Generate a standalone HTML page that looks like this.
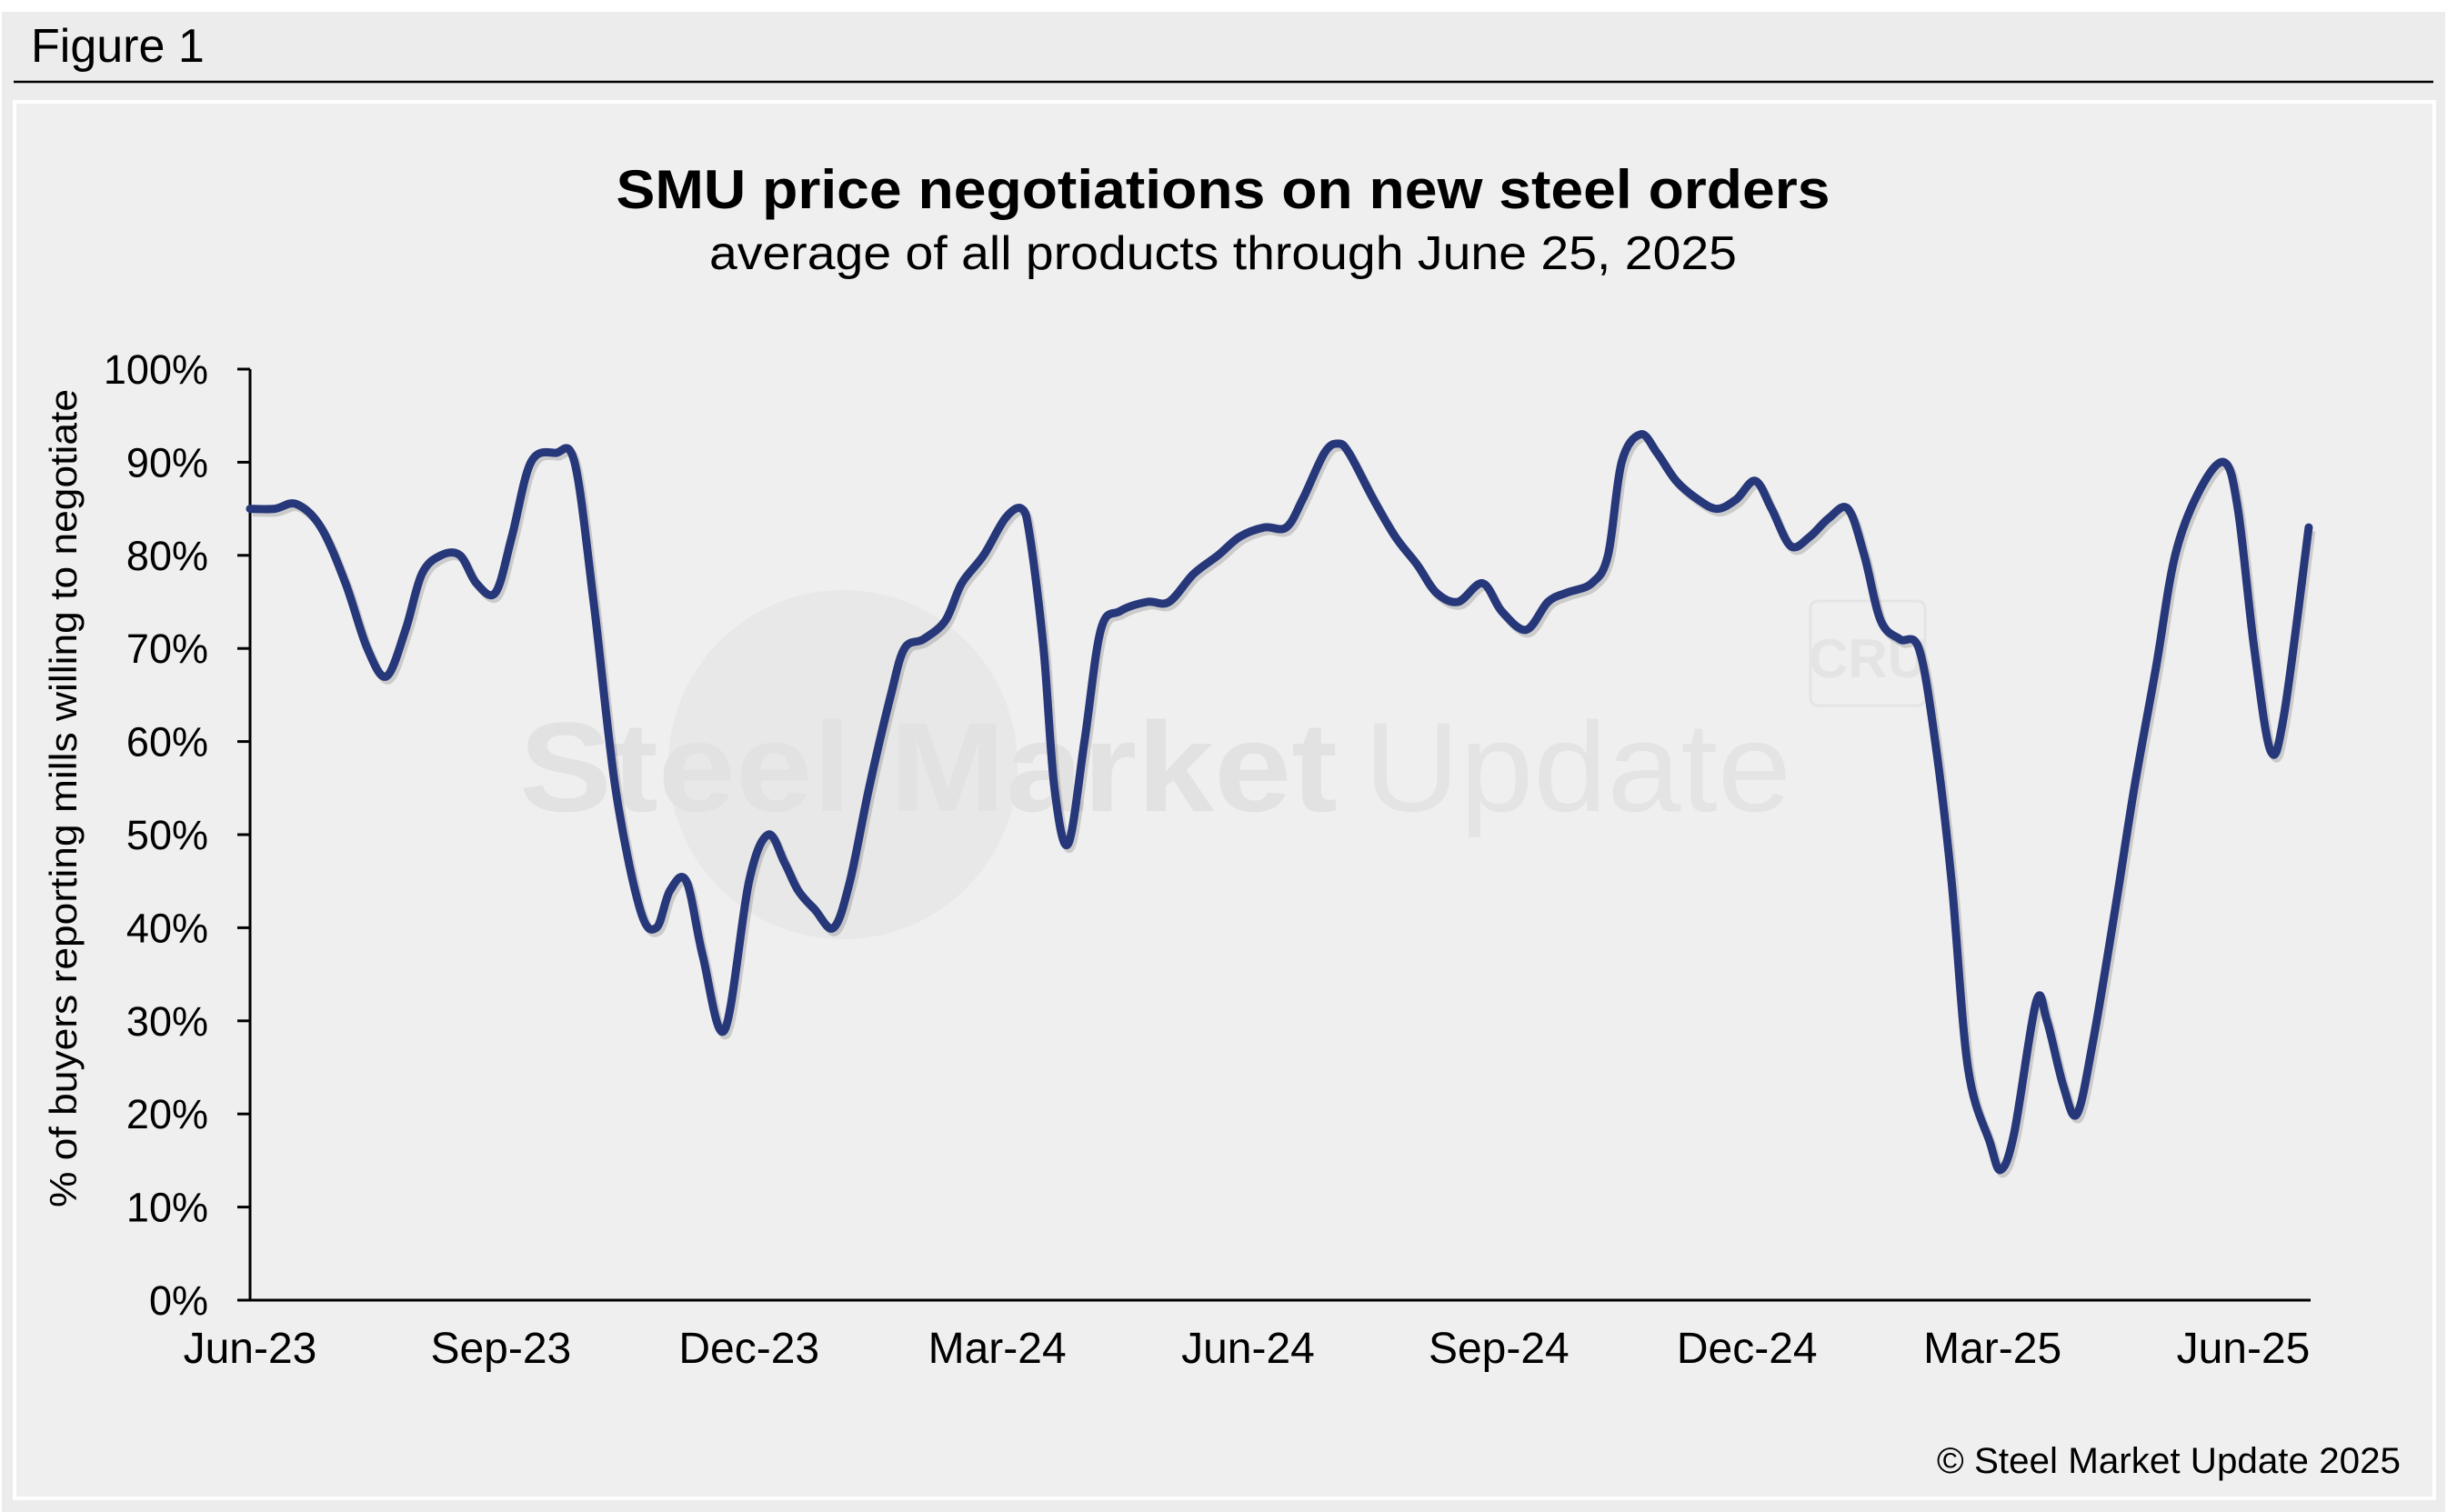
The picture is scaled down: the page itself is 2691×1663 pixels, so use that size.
<!DOCTYPE html>
<html><head><meta charset="utf-8"><style>
html,body{margin:0;padding:0;background:#ececec;}
svg{display:block;font-family:"Liberation Sans",Arial,sans-serif;}
</style></head><body>
<svg id="chart" width="2691" height="1663" viewBox="0 0 2691 1663">
<rect x="0" y="0" width="2691" height="1663" fill="#ffffff"/>
<rect x="2" y="13" width="2687" height="1650" fill="#ececec"/>
<text x="34" y="68" font-size="52" fill="#000">Figure 1</text>
<line x1="15" y1="90" x2="2676" y2="90" stroke="#000" stroke-width="2.5"/>
<rect x="16" y="112" width="2661" height="1536" fill="#efefef" stroke="#ffffff" stroke-width="4"/>
<g>
<circle cx="927" cy="841" r="192" fill="#e8e8e8"/>
<text x="571" y="892" font-size="140" font-weight="bold" fill="#e2e2e2" textLength="900" lengthAdjust="spacingAndGlyphs">Steel Market</text>
<text x="1500" y="892" font-size="140" fill="#e4e4e4" textLength="470" lengthAdjust="spacingAndGlyphs">Update</text>
<rect x="1991" y="661" width="126" height="115" rx="8" fill="none" stroke="#e4e4e4" stroke-width="3"/>
<text x="2054" y="745" font-size="60" font-weight="bold" fill="#e4e4e4" text-anchor="middle">CRU</text>
</g>
<text x="1345" y="229" font-size="60" font-weight="bold" text-anchor="middle" textLength="1335" lengthAdjust="spacingAndGlyphs" fill="#000">SMU price negotiations on new steel orders</text>
<text x="1345" y="296" font-size="52" text-anchor="middle" textLength="1130" lengthAdjust="spacingAndGlyphs" fill="#000">average of all products through June 25, 2025</text>
<text transform="translate(84,878) rotate(-90)" font-size="42" text-anchor="middle" textLength="900" lengthAdjust="spacingAndGlyphs" fill="#000">% of buyers reporting mills willing to negotiate</text>
<text x="2640" y="1620" font-size="40" text-anchor="end" textLength="510" lengthAdjust="spacingAndGlyphs" fill="#000">© Steel Market Update 2025</text>
<g id="axes"></g>
<g id="series"></g>
</svg>
<script>
const yTicks = [0,10,20,30,40,50,60,70,80,90,100];
const xTickLabels = ["Jun-23","Sep-23","Dec-23","Mar-24","Jun-24","Sep-24","Dec-24","Mar-25","Jun-25"];
const xTickDays = [0,92,183,274,366,458,549,639,731];
const days = [0,9,17,26,35,43,50,57,63,70,77,83,90,96,103,112,119,126,134,143,149,154,160,166,174,183,190,196,201,207,214,220,227,235,240,247,255,261,269,277,283,286,291,295,300,306,312,319,329,337,346,355,363,372,380,386,394,399,403,412,420,428,435,443,452,459,468,476,483,492,498,503,510,516,523,531,538,545,552,558,565,572,579,586,592,598,605,612,618,624,630,638,642,647,655,659,665,670,676,684,691,699,706,715,724,729,735,741,746,755];
const values = [85,85,85.5,83,77,70,67,72,78,80,80,77,76,82,90,91,90,75,55,42,40,44,45,37,29,45,50,47,44,42,40,45,55,65,70,71,73,77,80,84,85,82,70,55,49,60,72,74,75,75,78,80,82,83,83,86,91,92,91,86,82,79,76,75,77,74,72,75,76,77,80,90,93,91,88,86,85,86,88,85,81,82,84,85,80,73,71,70,60,45,25,17,14,18,32,30,23,20,28,42,55,68,80,87,90,85,70,59,63,83];

const NS="http://www.w3.org/2000/svg";
const X0=275, PX_PER_DAY=(2467-275)/731, Y0=1430, Y100=406, XEND=2541;
function xs(d){return X0+d*PX_PER_DAY;}
function ys(v){return Y0-(v/100)*(Y0-Y100);}
function mk(tag,attrs,parent){const e=document.createElementNS(NS,tag);for(const k in attrs)e.setAttribute(k,attrs[k]);parent.appendChild(e);return e;}
const axes=document.getElementById('axes');
let a=mk('line',{x1:X0,y1:ys(100),x2:X0,y2:Y0,stroke:'#000','stroke-width':3},axes);


a=mk('line',{x1:X0,y1:Y0,x2:XEND,y2:Y0,stroke:'#000','stroke-width':3},axes);


yTicks.forEach(v=>{
  const t=mk('line',{x1:X0-14,y1:ys(v),x2:X0,y2:ys(v),stroke:'#000','stroke-width':3},axes);
  
  
  const l=mk('text',{x:229,y:ys(v)+16,'font-size':45,'text-anchor':'end',fill:'#000'},axes);
  l.textContent=v+'%';
  
  
});
xTickLabels.forEach((s,i)=>{
  const l=mk('text',{x:xs(xTickDays[i]),y:1499,'font-size':48,'text-anchor':'middle',fill:'#000'},axes);
  l.textContent=s;
  
  
});
const pts=days.map((d,i)=>[xs(d),ys(values[i])]);
let dstr='M'+pts[0][0]+','+pts[0][1];
for(let i=0;i<pts.length-1;i++){
  const p0=pts[Math.max(0,i-1)],p1=pts[i],p2=pts[i+1],p3=pts[Math.min(pts.length-1,i+2)];
  const c1=[p1[0]+(p2[0]-p0[0])/6,p1[1]+(p2[1]-p0[1])/6];
  const c2=[p2[0]-(p3[0]-p1[0])/6,p2[1]-(p3[1]-p1[1])/6];
  dstr+=' C'+c1[0]+','+c1[1]+' '+c2[0]+','+c2[1]+' '+p2[0]+','+p2[1];
}
const series=document.getElementById('series');
const sh=mk('path',{d:dstr,fill:'none',stroke:'rgba(0,0,0,0.15)','stroke-width':9,transform:'translate(3,4)','stroke-linejoin':'round'},series);


const ln=mk('path',{d:dstr,fill:'none',stroke:'#26377a','stroke-width':9,'stroke-linejoin':'round','stroke-linecap':'round'},series);


</script>
</body></html>
